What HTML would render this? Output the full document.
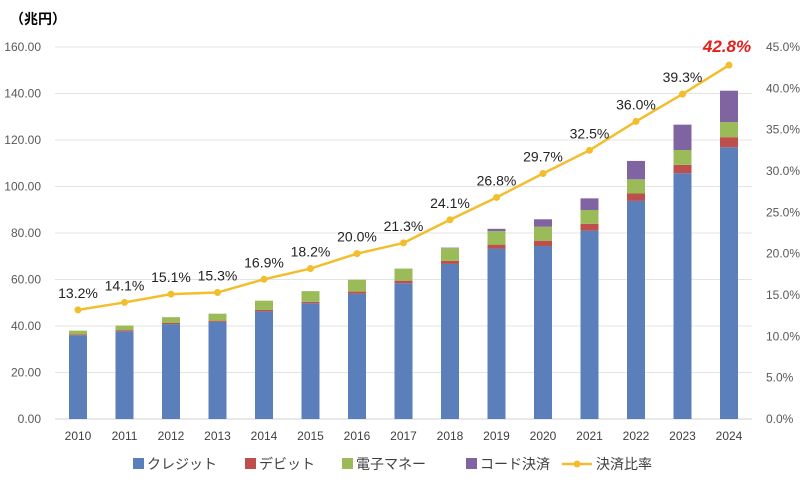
<!DOCTYPE html>
<html><head><meta charset="utf-8"><style>
body{margin:0;background:#fff;}
svg text{font-family:"Liberation Sans","Noto Sans CJK JP",sans-serif;}
</style></head><body>
<svg id="c" width="800" height="478" xmlns="http://www.w3.org/2000/svg"></svg>
<script>
const s=document.getElementById('c');
let h='';
const y0=419,k=2.325,pk=8.267;
h+='<text x="10" y="24" font-size="14" font-weight="bold" fill="#000">（兆円）</text>';
for(let i=0;i<=8;i++){const y=y0-i*20*k;
 if(i>0)h+=`<line x1="55" x2="752" y1="${y}" y2="${y}" stroke="#e3e3e3" stroke-width="1"/>`;
 h+=`<text x="41" y="${y+4}" font-size="12" fill="#595959" text-anchor="end">${(i*20).toFixed(2)}</text>`;}
for(let i=0;i<=9;i++){const y=y0-i*5*pk;
 h+=`<text x="766" y="${y+4}" font-size="12" fill="#595959">${(i*5).toFixed(1)}%</text>`;}
h+=`<line x1="55" x2="752" y1="${y0}" y2="${y0}" stroke="#d0d0d0"/>`;
const d=[[36,.4,1.6,0],[37.7,.5,2,0],[40.8,.5,2.5,0],[41.8,.5,3,0],[46.3,.6,4,0],[49.8,.6,4.6,0],[53.9,.9,5.1,0],[58.4,1.1,5.2,0],[66.7,1.3,5.5,.2],[73.3,1.7,5.8,1],[74.4,2.3,6,3.2],[81,2.9,6,5],[93.8,3.2,6.1,7.9],[105.7,3.6,6.4,10.9],[116.9,4.3,6.5,13.5]];
const p=[13.2,14.1,15.1,15.3,16.9,18.2,20.0,21.3,24.1,26.8,29.7,32.5,36.0,39.3,42.8];
const col=['#5b7fbb','#bd4f4c','#9bbb59','#8064a2'];
let pts=[];
d.forEach((r,i)=>{const x=78+46.5*i;let acc=0;
 r.forEach((v,j)=>{if(v<=0)return;const yt=y0-(acc+v)*k;h+=`<rect x="${x-9}" y="${yt}" width="18" height="${v*k}" fill="${col[j]}"/>`;acc+=v;});
 h+=`<text x="${x}" y="440" font-size="12" fill="#404040" text-anchor="middle">${2010+i}</text>`;
 pts.push([x,y0-p[i]*pk]);});
h+=`<polyline points="${pts.map(a=>a.join(',')).join(' ')}" fill="none" stroke="#f2be2e" stroke-width="2.5"/>`;
pts.forEach((a,i)=>{h+=`<circle cx="${a[0]}" cy="${a[1]}" r="3.5" fill="#f2be2e"/>`;
 if(i<14)h+=`<text x="${a[0]}" y="${a[1]-12}" font-size="14" fill="#222" text-anchor="middle">${p[i].toFixed(1)}%</text>`;
 else h+=`<text x="${a[0]-2}" y="${a[1]-13}" font-size="17" font-weight="bold" font-style="italic" fill="#e0201b" text-anchor="middle">42.8%</text>`;});
const lg=[[133,'クレジット',col[0]],[245,'デビット',col[1]],[342,'電子マネー',col[2]],[466,'コード決済',col[3]]];
lg.forEach(l=>{h+=`<rect x="${l[0]}" y="458" width="11" height="11" fill="${l[2]}"/><text x="${l[0]+14}" y="469" font-size="14" fill="#404040">${l[1]}</text>`;});
h+=`<line x1="562" x2="592" y1="464" y2="464" stroke="#f2be2e" stroke-width="2.5"/><circle cx="577" cy="464" r="3.5" fill="#f2be2e"/><text x="596" y="469" font-size="14" fill="#404040">決済比率</text>`;
s.innerHTML=h;
</script>
</body></html>
